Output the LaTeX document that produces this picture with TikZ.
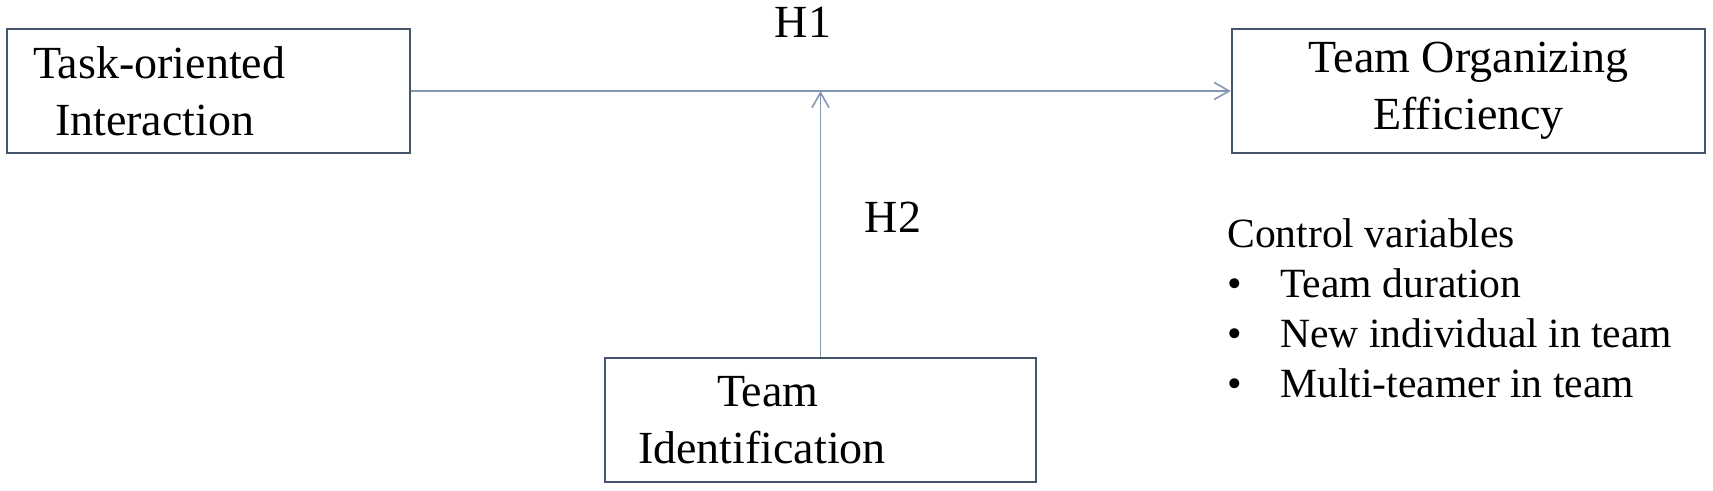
\documentclass[tikz,border=0pt]{standalone}
\usepackage{fontspec}
\setmainfont{Liberation Serif}
\usetikzlibrary{
    arrows.meta,
    positioning
}
\definecolor{boxline}{HTML}{44546A}
\definecolor{linkline}{HTML}{8497B0}

\begin{document}
\begin{tikzpicture}[x=0.5pt, y=-0.5pt,
    box/.style={draw=boxline, line width=1.2pt, minimum height=62pt,
        font=\fontsize{23}{28.5}\selectfont},
    link/.style={draw=linkline, line width=0.8pt,
        -{Straight Barb[length=7.5pt,width=8.5pt]}},
    hyp/.style={font=\fontsize{23}{28}\selectfont, anchor=base}
    ]
    \def\ctrlitem#1{\makebox[26.5pt][l]{\textbullet}#1}
    \useasboundingbox (0,0) rectangle (1713,491);

    % variables
    \node[box, minimum width=201.5pt, text width=175.5pt, inner xsep=13pt, align=left]
        (task) at (208.5,91) {Task-oriented\\\hspace*{11pt}Interaction};
    \node[box, minimum width=236.5pt, align=center]
        (efficiency) at (1468.5,91) {Team Organizing\\Efficiency};
    \node[box, minimum width=215.5pt, text width=182.5pt, inner xsep=16.5pt, align=left]
        (ident) at (820.5,420) {\hspace*{39.5pt}Team\\Identification};

    % hypotheses
    \coordinate (meet) at (ident.north |- task.east);
    \draw[link] (task.east) -- (efficiency.west);
    \draw[link] (ident.north) -- (meet);
    \node[hyp] (h1) at (803,38) {H1};
    \node[hyp] (h2) at (893,233) {H2};

    % controls (base = last line)
    \node[anchor=base west, align=left, inner sep=0pt,
        font=\fontsize{20.8}{25}\selectfont] (controls) at (1227,398)
        {Control variables\\
         \ctrlitem{Team duration}\\
         \ctrlitem{New individual in team}\\
         \ctrlitem{Multi-teamer in team}};
\end{tikzpicture}
\end{document}
